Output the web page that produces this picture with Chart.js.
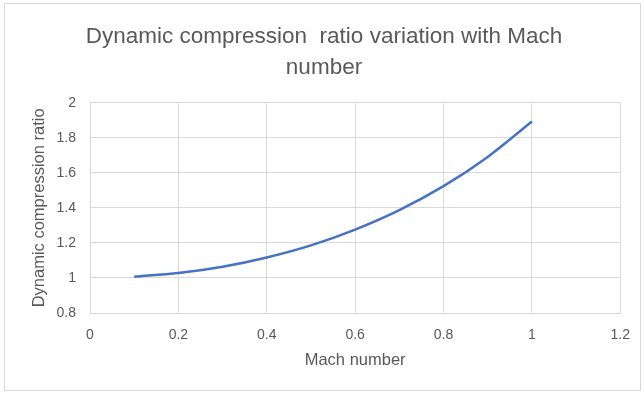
<!DOCTYPE html>
<html>
<head>
<meta charset="utf-8">
<script src="https://cdn.jsdelivr.net/npm/chart.js@4"></script>
<style>
html,body{margin:0;padding:0;background:#fff;}
#wrap{position:relative;width:644px;height:394px;}
</style>
</head>
<body>
<div id="wrap"><canvas id="c" width="644" height="394"></canvas></div>
<script>
const machNumbers = [0.1, 0.2, 0.3, 0.4, 0.5, 0.6, 0.7, 0.8, 0.9, 1.0];
const compressionRatio = [1.007, 1.028, 1.064, 1.117, 1.186, 1.276, 1.387, 1.524, 1.691, 1.893];
const chartTitle = ['Dynamic compression  ratio variation with Mach', 'number'];
const xTitle = 'Mach number';
const yTitle = 'Dynamic compression ratio';

const FONT = "'Liberation Sans', 'DejaVu Sans', sans-serif";
const TXT = '#595959';
const GRID = '#d9d9d9';

const borderPlugin = {
  id: 'outerBorder',
  beforeDraw(chart) {
    const ctx = chart.ctx;
    ctx.save();
    ctx.fillStyle = '#fff';
    ctx.fillRect(0, 0, chart.width, chart.height);
    ctx.strokeStyle = GRID;
    ctx.lineWidth = 1;
    ctx.strokeRect(4.5, 3.5, 636, 387);
    ctx.restore();
  }
};

new Chart(document.getElementById('c'), {
  type: 'line',
  data: {
    datasets: [{
      data: machNumbers.map((m, i) => ({ x: m, y: compressionRatio[i] })),
      borderColor: '#4472C4',
      borderWidth: 2.5,
      pointRadius: 0,
      fill: false,
      cubicInterpolationMode: 'monotone'
    }]
  },
  options: {
    responsive: false,
    animation: false,
    layout: { padding: { left: 26, right: 22, top: 0, bottom: 20 } },
    plugins: {
      legend: { display: false },
      tooltip: { enabled: false },
      title: {
        display: true,
        text: chartTitle,
        color: TXT,
        font: { family: FONT, size: 22.5, weight: 'normal', lineHeight: 1.35 },
        padding: { top: 22, bottom: 20 }
      }
    },
    scales: {
      x: {
        type: 'linear',
        min: 0, max: 1.2,
        ticks: { stepSize: 0.2, color: TXT, font: { family: FONT, size: 14 }, padding: 14,
          callback: v => Math.round(v * 10) / 10 },
        grid: { color: GRID, drawTicks: false },
        border: { color: GRID },
        title: { display: true, text: xTitle, color: TXT, font: { family: FONT, size: 16.5 }, padding: { top: 4, bottom: 4 } },
        afterFit(s) { s.height = 61; }
      },
      y: {
        min: 0.8, max: 2,
        ticks: { stepSize: 0.2, color: TXT, font: { family: FONT, size: 14 }, padding: 14,
          callback: v => Math.round(v * 10) / 10 },
        grid: { color: GRID, drawTicks: false },
        border: { color: GRID },
        title: { display: true, text: yTitle, color: TXT, font: { family: FONT, size: 16.5 }, padding: { top: 4, bottom: 0 } },
        afterFit(s) { s.width = 64; }
      }
    }
  },
  plugins: [borderPlugin]
});
</script>
</body>
</html>
